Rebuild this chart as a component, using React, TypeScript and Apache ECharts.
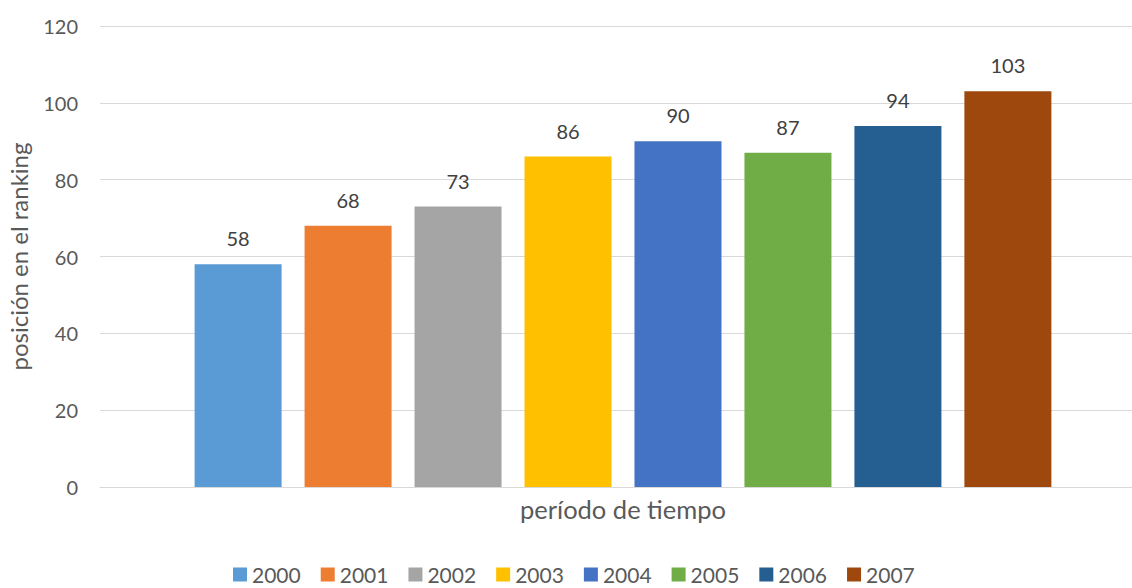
import React, { useEffect, useRef } from "react";
import * as echarts from "echarts";

const categories = ["período de tiempo"];
const seriesNames = ["2000", "2001", "2002", "2003", "2004", "2005", "2006", "2007"];
const seriesValues = [58, 68, 73, 86, 90, 87, 94, 103];
const colors = ["#5B9BD5", "#ED7D31", "#A5A5A5", "#FFC000", "#4472C4", "#70AD47", "#255E91", "#9E480E"];
const yTicks = { min: 0, max: 120, interval: 20 };
const yTitle = "posición en el ranking";

const FONT = "Lato, 'Open Sans', sans-serif";

export default function App() {
  const ref = useRef<HTMLDivElement>(null);
  useEffect(() => {
    document.body.style.margin = "0";
    const chart = echarts.init(ref.current!, undefined, { renderer: "svg" });
    chart.setOption({
      animation: false,
      textStyle: { fontFamily: FONT },
      grid: { left: 100, top: 26, bottom: 101, width: 1046, outerBoundsMode: "none", containLabel: false },
      legend: {
        top: 564,
        left: 233,
        padding: 0,
        itemWidth: 14,
        itemHeight: 14,
        itemGap: 20,
        icon: "rect",
        textStyle: { fontFamily: FONT, fontSize: 21, lineHeight: 16, color: "#595959" },
        data: seriesNames,
      },
      xAxis: {
        type: "category",
        data: categories,
        axisLine: { lineStyle: { color: "#D9D9D9", width: 1 } },
        axisTick: { show: false },
        axisLabel: { fontFamily: FONT, fontSize: 25.5, color: "#595959", margin: 9 },
      },
      yAxis: {
        type: "value",
        min: yTicks.min,
        max: yTicks.max,
        interval: yTicks.interval,
        name: yTitle,
        nameLocation: "middle",
        nameGap: 70,
        nameTextStyle: { fontFamily: FONT, fontSize: 24, color: "#595959" },
        axisLine: { show: false },
        axisTick: { show: false },
        axisLabel: { fontFamily: FONT, fontSize: 20, color: "#595959", margin: 22 },
        splitLine: { lineStyle: { color: "#D9D9D9", width: 1 } },
      },
      series: seriesNames.map((name, i) => ({
        name,
        type: "bar",
        data: [seriesValues[i]],
        barWidth: 87,
        barGap: "26.4%",
        itemStyle: { color: colors[i] },
        label: {
          show: true,
          position: "top",
          distance: 16,
          fontFamily: FONT,
          fontSize: 20,
          color: "#404040",
        },
      })),
    });
    return () => chart.dispose();
  }, []);
  return <div ref={ref} style={{ width: 1132, height: 588 }} />;
}
